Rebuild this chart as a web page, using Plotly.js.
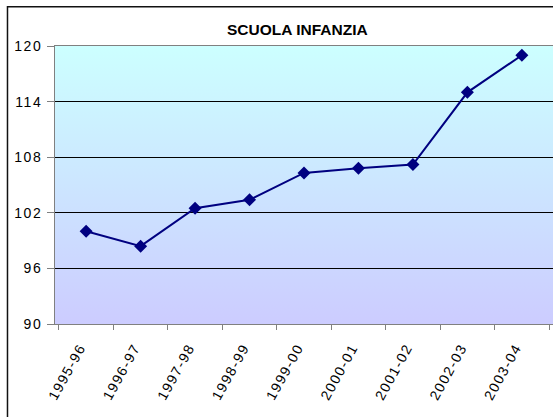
<!DOCTYPE html>
<html>
<head>
<meta charset="utf-8">
<script src="https://cdn.plot.ly/plotly-3.0.1.min.js"></script>
<style>
html,body{margin:0;padding:0;background:#fff;}
#chart{width:553px;height:417px;}
#chart .xtick text, #chart .ytick text{letter-spacing:1.5px;}
</style>
</head>
<body>
<div id="chart"></div>
<script>
// Data
var categories = ["1995-96","1996-97","1997-98","1998-99","1999-00","2000-01","2001-02","2002-03","2003-04"];
var values = [100.0, 98.4, 102.5, 103.4, 106.3, 106.8, 107.2, 115.0, 119.0];
var yTicks = [90, 96, 102, 108, 114, 120];
var chartTitle = "SCUOLA INFANZIA";

var gradSvg = "<svg xmlns='http://www.w3.org/2000/svg' width='10' height='100' viewBox='0 0 10 100' preserveAspectRatio='none'>" +
  "<defs><linearGradient id='g' x1='0' y1='0' x2='0' y2='1'>" +
  "<stop offset='0' stop-color='#CCFFFF'/><stop offset='1' stop-color='#CCCCFF'/>" +
  "</linearGradient></defs><rect x='0' y='0' width='10' height='100' fill='url(#g)'/></svg>";
var gradUri = "data:image/svg+xml;charset=utf-8," + encodeURIComponent(gradSvg);

var font = "Arial, 'Liberation Sans', sans-serif";

var trace = {
  x: categories,
  y: values,
  type: "scatter",
  mode: "lines+markers",
  line: {color: "#000080", width: 2},
  marker: {symbol: "diamond", size: 10, color: "#000080"},
  hoverinfo: "x+y"
};

var layout = {
  width: 553,
  height: 417,
  margin: {l: 55, r: 0, t: 46, b: 93},
  paper_bgcolor: "#ffffff",
  plot_bgcolor: "rgba(0,0,0,0)",
  showlegend: false,
  font: {family: font, size: 14, color: "#000"},
  xaxis: {
    type: "category",
    tickangle: -61,
    tickson: "boundaries",
    ticks: "outside",
    ticklen: 5,
    tickcolor: "#808080",
    showline: true,
    linecolor: "#808080",
    linewidth: 1,
    mirror: true,
    showgrid: false,
    ticklabelstandoff: 9,
    ticklabelshift: -6,
    tickfont: {family: font, size: 14, color: "#000"}
  },
  yaxis: {
    range: [90, 120],
    tickvals: yTicks,
    ticks: "outside",
    ticklen: 7,
    tickcolor: "#808080",
    showline: true,
    linecolor: "#808080",
    linewidth: 1,
    mirror: true,
    showgrid: true,
    gridcolor: "#000000",
    gridwidth: 1,
    zeroline: false,
    ticklabelstandoff: 2,
    tickfont: {family: font, size: 14, color: "#000"}
  },
  images: [{
    source: gradUri,
    xref: "paper", yref: "paper",
    x: 0, y: 1, sizex: 1, sizey: 1,
    xanchor: "left", yanchor: "top",
    sizing: "stretch",
    layer: "below"
  }],
  shapes: [{
    type: "rect",
    xref: "paper", yref: "paper",
    x0: -0.0954, x1: 1.3, y0: -1, y1: 1.1408,
    line: {color: "#111", width: 1.5},
    fillcolor: "rgba(0,0,0,0)",
    layer: "above"
  }],
  annotations: [{
    text: "<b>" + chartTitle + "</b>",
    xref: "paper", yref: "paper",
    x: 0.487, y: 1.06,
    xanchor: "center", yanchor: "middle",
    showarrow: false,
    font: {family: font, size: 15.5, color: "#000"}
  }]
};

Plotly.newPlot("chart", [trace], layout, {displayModeBar: false, staticPlot: true});
</script>
</body>
</html>
